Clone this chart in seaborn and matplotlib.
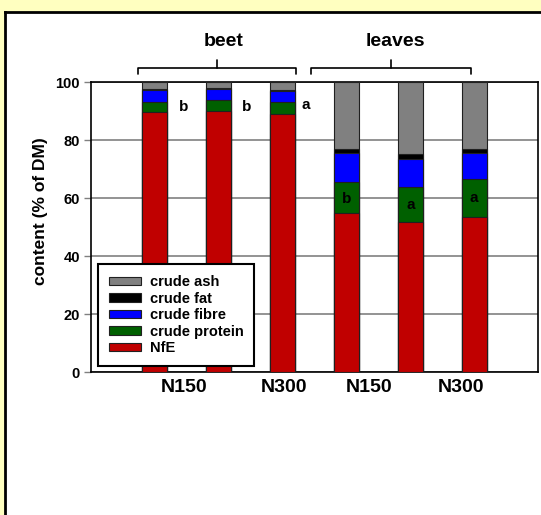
import matplotlib
matplotlib.use("Agg")
import matplotlib.pyplot as plt
import seaborn as sns
import pandas as pd
import numpy as np
from matplotlib.patches import Patch
from matplotlib.lines import Line2D

# ---- data ----
bars = ["beet N150 a", "beet N150 b", "beet N300", "leaves N150 a", "leaves N150 b", "leaves N300"]
nfe = [89.8, 90.1, 88.8, 54.7, 51.8, 53.6]
protein = [3.4, 3.8, 4.4, 10.7, 12.1, 12.8]
fibre = [4.0, 3.6, 3.8, 10.0, 9.5, 9.0]
fat = [0.3, 0.3, 0.4, 1.5, 1.8, 1.4]
ash = [2.5, 2.2, 2.6, 23.1, 24.8, 23.2]
components = ["crude ash", "crude fat", "crude fibre", "crude protein", "NfE"]
colors = {"crude ash": "#808080", "crude fat": "#000000", "crude fibre": "#0000FF",
          "crude protein": "#006000", "NfE": "#C00000"}
tick_labels = ["N150", "N300", "N150", "N300"]
group_labels = ["beet", "leaves"]
sig_letters_beet = ["b", "b", "a"]
sig_letters_leaves = ["b", "a", "a"]

sns.set_theme(style="white")
plt.rcParams['font.family'] = ['Liberation Sans', 'DejaVu Sans']
plt.rcParams['font.weight'] = 'bold'
plt.rcParams['text.color'] = 'black'
plt.rcParams['axes.labelcolor'] = 'black'
plt.rcParams['xtick.color'] = 'black'
plt.rcParams['ytick.color'] = 'black'

fig = plt.figure(figsize=(5.41, 5.15), dpi=100)
fig.patch.set_facecolor("#FFFFC0")

# white panel with black top/left border (background axes)
bg = fig.add_axes([5/541, 0, 1 - 5/541, 1 - 12/515])
bg.set_zorder(-5)
bg.set_facecolor("white")
bg.set_xticks([])
bg.set_yticks([])
for side in ["right", "bottom"]:
    bg.spines[side].set_visible(False)
for side in ["left", "top"]:
    bg.spines[side].set_visible(True)
    bg.spines[side].set_color("black")
    bg.spines[side].set_linewidth(2)

ax = fig.add_axes([91/541, 1 - 372/515, 447/541, 290/515])
ax.set_zorder(5)
ax.set_facecolor("white")

df = pd.DataFrame({"bar": bars, "NfE": nfe, "crude protein": protein, "crude fibre": fibre,
                   "crude fat": fat, "crude ash": ash})
stack_order = ["NfE", "crude protein", "crude fibre", "crude fat", "crude ash"]
cum = df[stack_order].cumsum(axis=1)

for comp in reversed(stack_order):
    sns.barplot(data=pd.DataFrame({"bar": bars, "v": cum[comp]}), x="bar", y="v", order=bars,
                color=colors[comp], saturation=1, width=0.39, edgecolor="#202020",
                linewidth=0.8, ax=ax, zorder=3)

ax.set_xlim(-1, 6)
ax.set_ylim(0, 100)
ax.set_yticks([0, 20, 40, 60, 80, 100])
ax.set_yticklabels(["0", "20", "40", "60", "80", "100"], fontsize=10.5, fontweight="bold")
ax.set_xticks([0.46, 2.02, 3.35, 4.8])
ax.set_xticklabels(tick_labels, fontsize=14, fontweight="bold")
ax.tick_params(axis="x", length=0, pad=5, labelcolor="black")
ax.tick_params(axis="y", length=5, width=1, color="#808080", pad=3, left=True, labelcolor="black")
ax.set_xlabel("")
ax.set_ylabel("content (% of DM)", fontsize=12.5, fontweight="bold", color="black")
ax.yaxis.set_label_coords(-0.096, 0.555)
ax.yaxis.grid(True, color="#808080", lw=1.2, zorder=0)
ax.set_axisbelow(True)
for s in ax.spines.values():
    s.set_visible(True)
    s.set_color("black")
    s.set_linewidth(1.2)

# significance letters
for i, (xx, yy) in enumerate([(0.37, 91.4), (1.37, 91.4), (2.3, 92.0)]):
    ax.text(xx, yy, sig_letters_beet[i], ha="left", va="center", fontsize=11, fontweight="bold",
            color="black", zorder=5)
for i, (xx, yy) in enumerate([(3, 59.7), (4, 57.6), (5, 60.0)]):
    ax.text(xx, yy, sig_letters_leaves[i], ha="center", va="center", fontsize=11, fontweight="bold",
            color="black", zorder=5)

# brackets
def bracket(x0, x1, xc, label, xt):
    yb, yh, yt = 102.8, 104.8, 107.6
    ax.add_line(Line2D([x0, x0, x1, x1], [yb, yh, yh, yb], color="black", lw=1.2, clip_on=False))
    ax.add_line(Line2D([xc, xc], [yh, yt], color="black", lw=1.2, clip_on=False))
    ax.text(xt, 114.0, label, ha="center", va="center", fontsize=14, fontweight="bold",
            color="black", clip_on=False)

bracket(-0.27, 2.21, 0.98, group_labels[0], 1.07)
bracket(2.44, 4.95, 3.7, group_labels[1], 3.77)

handles = [Patch(facecolor=colors[c], edgecolor="#202020", lw=0.8, label=c) for c in components]
leg = ax.legend(handles=handles, loc="lower left", bbox_to_anchor=(0.0157, 0.0207), borderaxespad=0,
                frameon=True, fancybox=False, handlelength=2.2, handleheight=0.5,
                labelspacing=0.17, handletextpad=0.6, borderpad=0.75,
                prop={"weight": "bold", "size": 10.5})
leg.get_frame().set_edgecolor("black")
leg.get_frame().set_linewidth(1.5)
leg.get_frame().set_facecolor("white")
leg.get_frame().set_alpha(1)
for t in leg.get_texts():
    t.set_color("black")
leg.set_zorder(10)

fig.savefig("out.png", dpi=100, facecolor=fig.get_facecolor())
